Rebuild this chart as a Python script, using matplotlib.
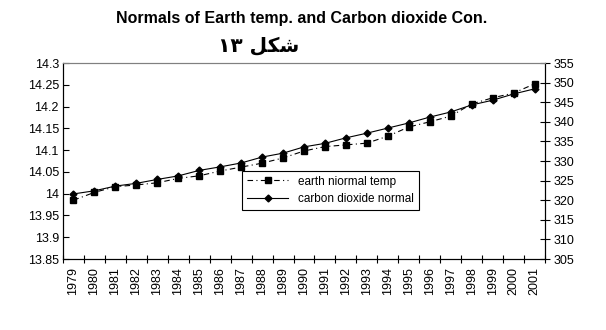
import numpy as np
import matplotlib.pyplot as plt

years = [str(y) for y in range(1979, 2002)]

earth_temp = [13.985, 14.003, 14.016, 14.020, 14.025, 14.035, 14.041, 14.052,
              14.061, 14.070, 14.082, 14.098, 14.108, 14.112, 14.116, 14.132,
              14.153, 14.165, 14.178, 14.206, 14.220, 14.231, 14.252]

co2 = [321.6, 322.4, 323.6, 324.3, 325.3, 326.2, 327.6, 328.5, 329.5, 331.0,
       332.0, 333.6, 334.5, 335.9, 337.1, 338.4, 339.7, 341.2, 342.5, 344.3,
       345.5, 347.1, 348.4]

left_ticks = [13.85, 13.9, 13.95, 14, 14.05, 14.1, 14.15, 14.2, 14.25, 14.3]
left_labels = ['13.85', '13.9', '13.95', '14', '14.05', '14.1', '14.15', '14.2', '14.25', '14.3']
right_ticks = list(range(305, 356, 5))

plt.rcParams['font.family'] = ['Liberation Sans', 'DejaVu Sans']

fig = plt.figure(figsize=(6.06, 3.30), dpi=100)
ax = fig.add_axes([63 / 606, 1 - 259 / 330, (545 - 63) / 606, (259 - 63) / 330])
ax2 = ax.twinx()

x = np.arange(len(years))
l1, = ax.plot(x, earth_temp, color='black', ls=(0, (5, 3, 1, 3)), lw=0.8,
              marker='s', ms=4.5, label='earth niormal temp')
l2, = ax2.plot(x, co2, color='black', ls='-', lw=0.8, marker='D', ms=3.5,
               label='carbon dioxide normal')

ax.set_xlim(-0.5, len(years) - 0.5)
ax.set_ylim(13.85, 14.3)
ax2.set_ylim(305, 355)

ax.set_yticks(left_ticks)
ax.set_yticklabels(left_labels, fontsize=9)
ax2.set_yticks(right_ticks)
ax2.set_yticklabels([str(t) for t in right_ticks], fontsize=9)

ax.set_xticks(np.arange(-0.5, len(years), 1.0))
ax.set_xticklabels([])
ax.set_xticks(x, minor=True)
ax.set_xticklabels(years, minor=True, rotation=90, fontsize=9)
ax.tick_params(axis='x', which='major', direction='inout', length=6, width=0.8)
ax.tick_params(axis='x', which='minor', length=0, pad=6)
ax.tick_params(axis='y', direction='in', length=4, width=0.8, pad=3)
ax2.tick_params(axis='y', direction='inout', length=7, width=0.8, pad=3)

for a in (ax, ax2):
    a.spines['top'].set_color('gray')
    a.spines['top'].set_linewidth(0.8)
    for s in ('left', 'right', 'bottom'):
        a.spines[s].set_linewidth(0.8)

leg = ax.legend(handles=[l1, l2], loc='upper left', bbox_to_anchor=(0.36, 0.48),
                fontsize=8.5, frameon=True, fancybox=False, framealpha=1,
                edgecolor='black', borderpad=0.4, handlelength=3.5)
leg.get_frame().set_linewidth(0.8)

fig.text(0.497, 1 - 18 / 330, 'Normals of Earth temp. and Carbon dioxide Con.',
         ha='center', va='center', fontsize=11.5, fontweight='bold')
fig.text(259 / 606, 1 - 46 / 330, '\u0661\u0663 \ufede\ufedc\ufeb7',
         ha='center', va='center', fontsize=14.5, fontweight='bold',
         family=['DejaVu Sans'])

fig.savefig('out.png', dpi=100)
